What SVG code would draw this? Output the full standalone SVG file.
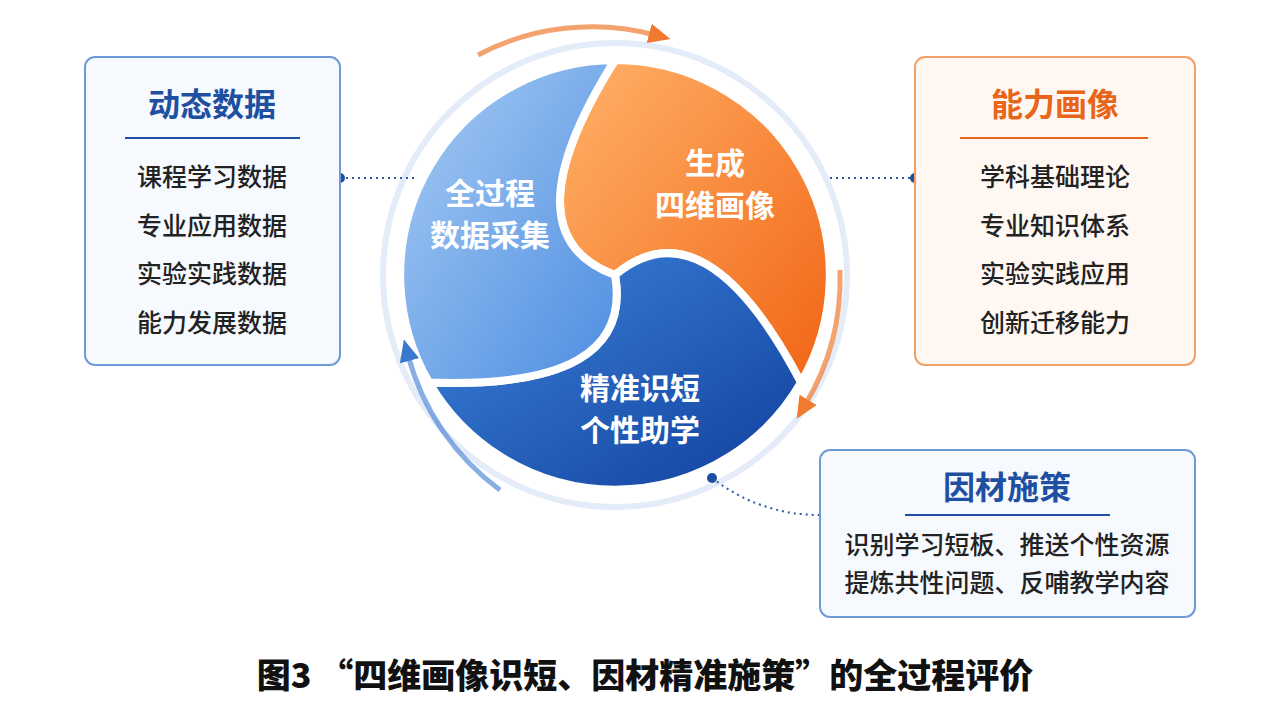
<svg xmlns="http://www.w3.org/2000/svg" width="1286" height="717" viewBox="0 0 1286 717">
<style>
.t{font-family:"Noto Sans CJK SC",sans-serif;text-anchor:middle}
.item{font-size:25px;fill:#222;font-weight:500}
.w{font-size:30px;fill:#fff;font-weight:bold}
.dot{stroke:#2a5aa8;stroke-width:2;stroke-dasharray:2 4;fill:none}
</style>
<defs>
<linearGradient id="lb" x1="0" y1="0" x2="1" y2="1"><stop offset="0" stop-color="#a8ccf5"/><stop offset="1" stop-color="#4d8de0"/></linearGradient>
<linearGradient id="or" x1="0" y1="0" x2="1" y2="1"><stop offset="0" stop-color="#ffb36a"/><stop offset="1" stop-color="#f26414"/></linearGradient>
<linearGradient id="db" x1="0" y1="0" x2="1" y2="1"><stop offset="0" stop-color="#3f86dc"/><stop offset="1" stop-color="#0f3f9c"/></linearGradient>
<marker id="ao" markerUnits="userSpaceOnUse" markerWidth="22" markerHeight="20" refX="6" refY="10" orient="auto"><path d="M0,0L22,10L0,20z" fill="#f07a30"/></marker>
<marker id="ab" markerUnits="userSpaceOnUse" markerWidth="22" markerHeight="20" refX="6" refY="10" orient="auto"><path d="M0,0L22,10L0,20z" fill="#3b78d0"/></marker>
</defs>
<rect width="1286" height="717" fill="#fff"/>
<g id="ring">
<circle cx="615" cy="275" r="232" fill="none" stroke="#e3ecf8" stroke-width="6"/>
</g>
<g id="pieces" stroke="#fff" stroke-width="8" stroke-linejoin="round">
<path d="M615,60 A215,215 0 0 1 801,382.5 Q705,200 615,275 Q505,235 615,60z" fill="url(#or)"/>
<path d="M801,382.5 A215,215 0 0 1 429,382.5 Q635,390 615,275 Q705,200 801,382.5z" fill="url(#db)"/>
<path d="M429,382.5 A215,215 0 0 1 615,60 Q505,235 615,275 Q635,390 429,382.5z" fill="url(#lb)"/>
</g>
<g id="labels">
<text class="t w" x="490" y="204">全过程</text><text class="t w" x="490" y="246">数据采集</text>
<text class="t w" x="715" y="174">生成</text><text class="t w" x="715" y="216">四维画像</text>
<text class="t w" x="640" y="399">精准识短</text><text class="t w" x="640" y="441">个性助学</text>
</g>
<g id="connectors">
<path d="M478,55 A245,245 0 0 1 655,35" fill="none" stroke="#f07a30" stroke-width="5" stroke-opacity="0.7" marker-end="url(#ao)"/>
<path d="M840,270 A245,245 0 0 1 805,405" fill="none" stroke="#f07a30" stroke-width="5" stroke-opacity="0.7" marker-end="url(#ao)"/>
<path d="M500,490 A245,245 0 0 1 408,355" fill="none" stroke="#3b78d0" stroke-width="5" stroke-opacity="0.6" marker-end="url(#ab)"/>
<line class="dot" x1="340" y1="178" x2="415" y2="178"/><circle cx="340" cy="178" r="5" fill="#1f4fa0"/>
<line class="dot" x1="830" y1="178" x2="915" y2="178"/><circle cx="915" cy="178" r="5" fill="#1f4fa0"/>
<path class="dot" d="M712,478 Q760,515 820,515"/><circle cx="712" cy="478" r="5" fill="#1f4fa0"/>
</g>
<g id="box-left">
<rect x="85" y="57" width="255" height="308" rx="10" fill="#f6f9fe" stroke="#6f9ad8" stroke-width="2"/>
<text class="t" x="212" y="116" font-size="32" font-weight="bold" fill="#1f4fa0">动态数据</text>
<line x1="125" y1="138" x2="300" y2="138" stroke="#1f4fa0" stroke-width="2"/>
<text class="t item" x="212" y="186">课程学习数据</text><text class="t item" x="212" y="235">专业应用数据</text>
<text class="t item" x="212" y="283">实验实践数据</text><text class="t item" x="212" y="332">能力发展数据</text>
</g>
<g id="box-right">
<rect x="915" y="57" width="280" height="308" rx="10" fill="#fff8f2" stroke="#f2a06a" stroke-width="2"/>
<text class="t" x="1055" y="116" font-size="32" font-weight="bold" fill="#e8651a">能力画像</text>
<line x1="960" y1="138" x2="1148" y2="138" stroke="#e8651a" stroke-width="2"/>
<text class="t item" x="1055" y="186">学科基础理论</text><text class="t item" x="1055" y="235">专业知识体系</text>
<text class="t item" x="1055" y="283">实验实践应用</text><text class="t item" x="1055" y="332">创新迁移能力</text>
</g>
<g id="box-bottom">
<rect x="820" y="450" width="375" height="167" rx="10" fill="#f6f9fe" stroke="#6f9ad8" stroke-width="2"/>
<text class="t" x="1007" y="499" font-size="32" font-weight="bold" fill="#1f4fa0">因材施策</text>
<line x1="905" y1="515" x2="1110" y2="515" stroke="#1f4fa0" stroke-width="2"/>
<text class="t item" x="1007" y="554">识别学习短板、推送个性资源</text>
<text class="t item" x="1007" y="592">提炼共性问题、反哺教学内容</text>
</g>
<text class="t" x="645" y="688" font-size="34" font-weight="900" fill="#111">图3 “四维画像识短、因材精准施策”的全过程评价</text>
</svg>
